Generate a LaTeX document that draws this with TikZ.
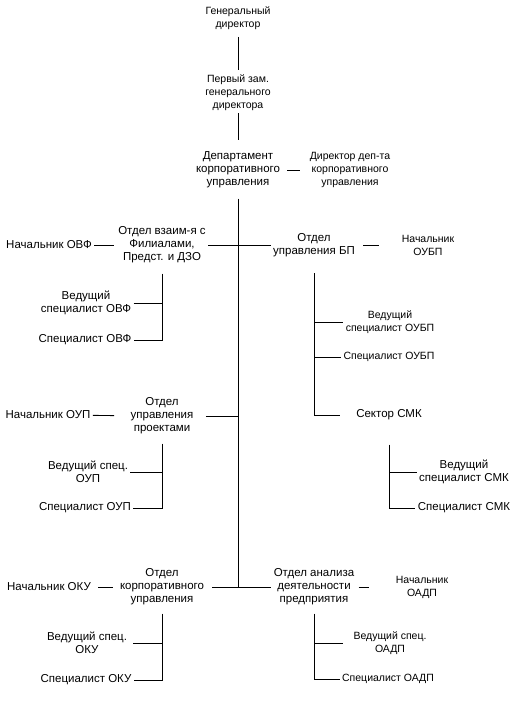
\documentclass[tikz,border=0pt]{standalone}
\usepackage{fontspec}
\setmainfont{Liberation Sans}
\usepackage{tikz}
\def\mainsize{\fontsize{11.5}{13}\selectfont}
\def\smallsize{\fontsize{10.5}{13}\selectfont}

\begin{document}
\begin{tikzpicture}[x=1pt,y=-1pt,line width=0.9pt,
    unit/.style={align=center,inner sep=2pt,font=\mainsize},
    sunit/.style={unit,font=\smallsize}]
    \useasboundingbox (0,0) rectangle (530,717);
    % top of the chart
    \node[sunit] (gen) at (238,18) {Генеральный\\директор};
    \node[sunit] (perv) at (238,93) {Первый зам.\\генерального\\директора};
    \node[unit] (dep) at (238,170) {Департамент\\корпоративного\\управления};
    \node[sunit] (dir) at (350,170) {Директор деп-та\\корпоративного\\управления};
    \coordinate (spine) at (238,587);
    \draw[shorten <=5pt,shorten >=3pt] (gen) -- (perv);
    \draw[shorten >=9pt] (perv) -- (dep);
    \draw[shorten <=5pt,shorten >=7pt] (dep) -- (dir);
    \draw[shorten <=8pt] (dep) -- (spine);
    % first row
    \node[unit] (ovf) at (162,245) {Отдел взаим-я с\\Филиалами,\\Предст. и ДЗО};
    \node[unit] (nOVF) at (49,245) {Начальник ОВФ};
    \node[unit] (vOVF) at (86,303) {Ведущий\\специалист ОВФ};
    \node[unit] (sOVF) at (85,340) {Специалист ОВФ};
    \node[unit] (obp) at (314,245) {Отдел\\управления БП};
    \node[sunit] (nOUBP) at (428,245) {Начальник\\ОУБП};
    \node[sunit] (vOUBP) at (390,322) {Ведущий\\специалист ОУБП};
    \node[sunit] (sOUBP) at (389,357) {Специалист ОУБП};
    \node[unit] (smk) at (389,415) {Сектор СМК};
    \node[unit] (vSMK) at (464,472) {Ведущий\\специалист СМК};
    \node[unit] (sSMK) at (464,508) {Специалист СМК};
    \coordinate (ovfEnd) at (162,340);
    \coordinate (obpEnd) at (314,415);
    \coordinate (smkEnd) at (389,508);
    \draw (ovf) -- (obp);
    \draw[shorten >=2pt] (nOVF) -- (ovf);
    \draw[shorten <=8pt] (ovf) -- (ovfEnd) -- (sOVF);
    \draw (vOVF) -- (vOVF -| ovfEnd);
    \draw[shorten <=6pt,shorten >=20pt] (obp) -- (nOUBP);
    \draw[shorten <=14pt,shorten >=14pt] (obp) -- (obpEnd) -- (smk);
    \draw (vOUBP.west -| obpEnd) -- (vOUBP);
    \draw (sOUBP.west -| obpEnd) -- (sOUBP);
    \draw[shorten <=22pt] (smk) -- (smkEnd) -- (sSMK);
    \draw (vSMK.west -| smkEnd) -- (vSMK);
    % second row
    \node[unit] (oup) at (162,416) {Отдел\\управления\\проектами};
    \node[unit] (nOUP) at (48,415) {Начальник ОУП};
    \node[unit] (vOUP) at (88,472) {Ведущий спец.\\ОУП};
    \node[unit] (sOUP) at (85,508) {Специалист ОУП};
    \coordinate (oupEnd) at (162,508);
    \draw[shorten <=10pt] (oup) -- (oup -| spine);
    \draw[shorten >=14pt] (nOUP) -- (oup);
    \draw[shorten <=7pt] (oup) -- (oupEnd) -- (sOUP);
    \draw (vOUP) -- (vOUP -| oupEnd);
    % third row
    \node[unit] (oku) at (162,587) {Отдел\\корпоративного\\управления};
    \node[unit] (nOKU) at (49,587) {Начальник ОКУ};
    \node[unit] (vOKU) at (87,643) {Ведущий спец.\\ОКУ};
    \node[unit] (sOKU) at (86,680) {Специалист ОКУ};
    \node[unit] (oadp) at (314,587) {Отдел анализа\\деятельности\\предприятия};
    \node[sunit] (nOADP) at (422,587) {Начальник\\ОАДП};
    \node[sunit] (vOADP) at (390,643) {Ведущий спец.\\ОАДП};
    \node[sunit] (sOADP) at (388,679) {Специалист ОАДП};
    \coordinate (okuEnd) at (162,680);
    \coordinate (oadpEnd) at (314,679);
    \draw[shorten <=6pt] (oku) -- (oadp);
    \draw[shorten <=5pt,shorten >=5pt] (nOKU) -- (oku);
    \draw[shorten <=6pt] (oku) -- (okuEnd) -- (sOKU);
    \draw[shorten <=4pt] (vOKU) -- (vOKU -| okuEnd);
    \draw[shorten <=2pt,shorten >=24pt] (oadp) -- (nOADP);
    \draw[shorten <=6pt] (oadp) -- (oadpEnd) -- (sOADP);
    \draw[shorten >=8pt] (vOADP.west -| oadpEnd) -- (vOADP);
\end{tikzpicture}
\end{document}
